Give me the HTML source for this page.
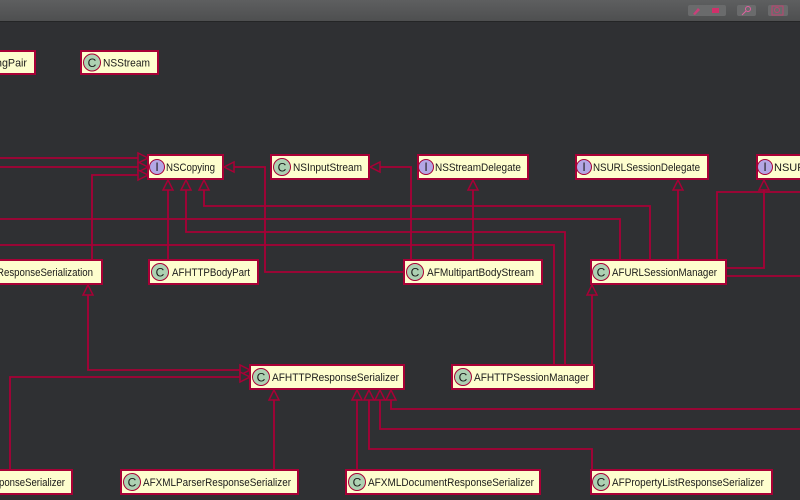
<!DOCTYPE html>
<html><head><meta charset="utf-8"><style>
html,body{margin:0;padding:0;width:800px;height:500px;overflow:hidden;background:#2f3033}
svg{display:block}
text{font-family:"Liberation Sans",sans-serif;font-size:11px;fill:#1a1a1a}
.ic{font-size:12px}
</style></head><body>
<svg width="800" height="500" xmlns="http://www.w3.org/2000/svg">
<defs><linearGradient id="tb" x1="0" y1="0" x2="0" y2="1"><stop offset="0" stop-color="#5e5f60"/><stop offset="1" stop-color="#4e4f50"/></linearGradient></defs>
<rect x="0" y="0" width="800" height="21" fill="url(#tb)"/>
<rect x="0" y="21" width="800" height="1" fill="#242526"/>
<rect x="688" y="5" width="38" height="11" rx="2" fill="#6a6b6c"/>
<rect x="737" y="5" width="19" height="11" rx="2" fill="#6a6b6c"/>
<rect x="768" y="5" width="20" height="11" rx="2" fill="#6a6b6c"/>
<path d="M693 14 l5 -6 l2 2 l-5 5z" fill="#c8407a"/>
<rect x="712" y="8" width="7" height="5" fill="#d0306a"/>
<circle cx="748" cy="9" r="2.5" fill="none" stroke="#e060a0"/><line x1="746" y1="11" x2="742" y2="15" stroke="#e060a0"/>
<rect x="772" y="6" width="11" height="9" fill="none" stroke="#c04070"/><circle cx="777" cy="10" r="2.5" fill="none" stroke="#c04070"/>

<g fill="none" stroke="#a80036" stroke-width="1.8">
<polyline points="0,158 138,158"/>
<polyline points="0,167 138,167"/>
<polyline points="92,259 92,175 138,175"/>
<polyline points="168,259 168,190"/>
<polyline points="0,219 620,219 620,259"/>
<polyline points="186,190 186,232 565,232 565,364"/>
<polyline points="204,190 204,206 650,206 650,259"/>
<polyline points="0,245 554,245 554,364"/>
<polyline points="234,167 265,167 265,272 404,272"/>
<polyline points="380,167 411,167 411,259"/>
<polyline points="473,190 473,259"/>
<polyline points="678,190 678,259"/>
<polyline points="764,190 764,268 726,268"/>
<polyline points="717,259 717,192 800,192"/>
<polyline points="726,276 800,276"/>
<polyline points="592,295 592,364"/>
<polyline points="88,295 88,370 240,370"/>
<polyline points="10,469 10,377 240,377"/>
<polyline points="274,400 274,469"/>
<polyline points="357,400 357,469"/>
<polyline points="369,400 369,449 592,449 592,469"/>
<polyline points="380,400 380,429 800,429"/>
<polyline points="391,400 391,409 800,409"/>
</g>
<g fill="#2f3033" stroke="#a80036" stroke-width="1.5">
<polygon points="148,158 138,153 138,163"/>
<polygon points="148,167 138,162 138,172"/>
<polygon points="148,175 138,170 138,180"/>
<polygon points="168,180 163,190 173,190"/>
<polygon points="186,180 181,190 191,190"/>
<polygon points="204,180 199,190 209,190"/>
<polygon points="224,167 234,162 234,172"/>
<polygon points="370,167 380,162 380,172"/>
<polygon points="473,180 468,190 478,190"/>
<polygon points="678,180 673,190 683,190"/>
<polygon points="764,180 759,190 769,190"/>
<polygon points="592,285 587,295 597,295"/>
<polygon points="88,285 83,295 93,295"/>
<polygon points="250,370 240,365 240,375"/>
<polygon points="250,377 240,372 240,382"/>
<polygon points="274,390 269,400 279,400"/>
<polygon points="357,390 352,400 362,400"/>
<polygon points="369,390 364,400 374,400"/>
<polygon points="380,390 375,400 385,400"/>
<polygon points="391,390 386,400 396,400"/>
</g>

<g stroke="#a80036" stroke-width="2" fill="#fefece">
<rect x="-10" y="51" width="45" height="23"/>
<rect x="81" y="51" width="77" height="23"/>
<rect x="148" y="155" width="75" height="24"/>
<rect x="271" y="155" width="98" height="24"/>
<rect x="418" y="155" width="110" height="24"/>
<rect x="576" y="155" width="132" height="24"/>
<rect x="757" y="155" width="60" height="24"/>
<rect x="-10" y="260" width="112" height="24"/>
<rect x="149" y="260" width="109" height="24"/>
<rect x="404" y="260" width="138" height="24"/>
<rect x="591" y="260" width="135" height="24"/>
<rect x="250" y="365" width="154" height="24"/>
<rect x="452" y="365" width="142" height="24"/>
<rect x="-10" y="470" width="82" height="24"/>
<rect x="121" y="470" width="177" height="24"/>
<rect x="346" y="470" width="194" height="24"/>
<rect x="591" y="470" width="181" height="24"/>
</g>
<g stroke="#a80036" stroke-width="1">
<circle cx="92" cy="62.5" r="8.5" fill="#add1b2"/>
<circle cx="157" cy="167" r="7.5" fill="#b4a7e5"/>
<circle cx="282" cy="167" r="8.5" fill="#add1b2"/>
<circle cx="426" cy="167" r="7.5" fill="#b4a7e5"/>
<circle cx="584" cy="167" r="7.5" fill="#b4a7e5"/>
<circle cx="765" cy="167" r="7.5" fill="#b4a7e5"/>
<circle cx="160" cy="272" r="8.5" fill="#add1b2"/>
<circle cx="415" cy="272" r="8.5" fill="#add1b2"/>
<circle cx="601" cy="272" r="8.5" fill="#add1b2"/>
<circle cx="261" cy="377" r="8.5" fill="#add1b2"/>
<circle cx="463" cy="377" r="8.5" fill="#add1b2"/>
<circle cx="132" cy="482" r="8.5" fill="#add1b2"/>
<circle cx="357" cy="482" r="8.5" fill="#add1b2"/>
<circle cx="601" cy="482" r="8.5" fill="#add1b2"/>
</g>
<g text-anchor="middle">
<text x="92" y="67" class="ic">C</text>
<text x="157" y="171" class="ic">I</text>
<text x="282" y="171.5" class="ic">C</text>
<text x="426" y="171" class="ic">I</text>
<text x="584" y="171" class="ic">I</text>
<text x="765" y="171" class="ic">I</text>
<text x="160" y="276.5" class="ic">C</text>
<text x="415" y="276.5" class="ic">C</text>
<text x="601" y="276.5" class="ic">C</text>
<text x="261" y="381.5" class="ic">C</text>
<text x="463" y="381.5" class="ic">C</text>
<text x="132" y="486.5" class="ic">C</text>
<text x="357" y="486.5" class="ic">C</text>
<text x="601" y="486.5" class="ic">C</text>
</g>
<text x="-4" y="66.5" textLength="31" lengthAdjust="spacingAndGlyphs">ngPair</text>
<text x="103" y="66.5" textLength="47" lengthAdjust="spacingAndGlyphs">NSStream</text>
<text x="166" y="171" textLength="49" lengthAdjust="spacingAndGlyphs">NSCopying</text>
<text x="293" y="171" textLength="69" lengthAdjust="spacingAndGlyphs">NSInputStream</text>
<text x="435" y="171" textLength="86" lengthAdjust="spacingAndGlyphs">NSStreamDelegate</text>
<text x="593" y="171" textLength="107" lengthAdjust="spacingAndGlyphs">NSURLSessionDelegate</text>
<text x="774" y="171">NSURLSessionTaskDelegate</text>
<text x="-3" y="276" textLength="96" lengthAdjust="spacingAndGlyphs">ResponseSerialization</text>
<text x="172" y="276" textLength="78" lengthAdjust="spacingAndGlyphs">AFHTTPBodyPart</text>
<text x="427" y="276" textLength="107" lengthAdjust="spacingAndGlyphs">AFMultipartBodyStream</text>
<text x="612" y="276" textLength="105" lengthAdjust="spacingAndGlyphs">AFURLSessionManager</text>
<text x="272" y="381" textLength="127" lengthAdjust="spacingAndGlyphs">AFHTTPResponseSerializer</text>
<text x="474" y="381" textLength="115" lengthAdjust="spacingAndGlyphs">AFHTTPSessionManager</text>
<text x="-1" y="486" textLength="66" lengthAdjust="spacingAndGlyphs">ponseSerializer</text>
<text x="143" y="486" textLength="148" lengthAdjust="spacingAndGlyphs">AFXMLParserResponseSerializer</text>
<text x="368" y="486" textLength="166" lengthAdjust="spacingAndGlyphs">AFXMLDocumentResponseSerializer</text>
<text x="612" y="486" textLength="152" lengthAdjust="spacingAndGlyphs">AFPropertyListResponseSerializer</text>
</svg>
</body></html>
